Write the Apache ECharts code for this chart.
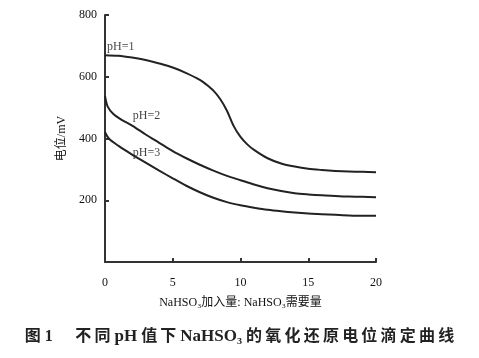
<!DOCTYPE html>
<html><head><meta charset="utf-8">
<script src="https://cdn.jsdelivr.net/npm/echarts@6/dist/echarts.min.js"></script>
<style>html,body{margin:0;padding:0;background:#fff}#c{width:479px;height:358px}</style>
</head><body><div id="c"></div>
<script>
const xTicks = [0, 5, 10, 15, 20];
const yTicks = [200, 400, 600, 800];
const seriesNames = ['pH=1', 'pH=2', 'pH=3'];
const ph1 = [[0,670],[1,668],[2,662],[3,654],[4,643],[5,630],[6,612],[7,590],[7.5,574],[8,555],[8.5,528],[9,490],[9.5,440],[10,405],[10.5,381],[11,363],[12,336],[13,319],[14,309],[15,302],[16,298],[17,295],[18,293],[19,292],[20,291]];
const ph2 = [[0,538],[0.2,503],[0.6,480],[1.2,461],[2,442],[3,413],[4,386],[5,359],[6,336],[7,315],[8,296],[9,279],[10,265],[11,251],[12,239],[13,230],[14,223],[15,219],[16,216],[17,214],[18,212],[19,211],[20,210]];
const ph3 = [[0,420],[0.3,399],[1,376],[2,348],[3,322],[4,296],[5,271],[6,247],[7,226],[8,208],[9,194],[10,184],[11,176],[12,169],[13,164],[14,160],[15,157],[16,155],[17,153],[18,151],[19,150],[20,150]];
const labelAnchors = [[0.15,696],[2.05,472],[2.05,353]];
const xName = 'NaHSO₃加入量: NaHSO₃需要量';
const yName = '电位/mV';
const captionParts = ['图 1', '不同', 'pH', '值下', 'NaHSO₃', '的氧化还原电位滴定曲线'];

const serif = '"Liberation Serif","Noto Sans CJK SC",serif';
const lineStyle = {color:'#222', width:2};
const chart = echarts.init(document.getElementById('c'), null, {renderer:'canvas'});
const datas = [ph1, ph2, ph3];
const series = datas.map((d,i)=>({
  type:'line', name:seriesNames[i], data:d, smooth:0.3, showSymbol:false, symbol:'none',
  lineStyle:lineStyle, silent:true, animation:false
}));
series.push({
  type:'scatter', data:labelAnchors.map((p,i)=>({value:p, name:seriesNames[i]})),
  symbolSize:0, silent:true, animation:false,
  label:{show:true, position:'right', distance:0, formatter:p=>p.name, color:'#111', fontSize:12, fontFamily:serif}
});
const sp = s => s.split('').join('\u2009');
const captionText = '{a|' + captionParts[0] + '}{g|\u3000\u2009\u2009}' +
  '{b|' + sp(captionParts[1]) + ' }{c|' + captionParts[2] + '}{b| ' + sp(captionParts[3]) + ' }' +
  '{c|' + captionParts[4] + '}{b| ' + sp(captionParts[5]) + '}';
chart.setOption({
  animation:false,
  backgroundColor:'#fff',
  title:{
    text:captionText,
    left:'center', bottom:8,
    textStyle:{rich:{
      a:{fontSize:16, fontWeight:'bold', fontFamily:serif, color:'#222'},
      g:{fontSize:16, fontFamily:serif},
      b:{fontSize:16, fontWeight:'bold', fontFamily:serif, color:'#222'},
      c:{fontSize:17, fontWeight:'bold', fontFamily:serif, color:'#222'}
    }}
  },
  grid:{left:105, right:103, top:15, bottom:96},
  xAxis:{
    type:'value', min:0, max:20, interval:5,
    name:xName, nameLocation:'middle', nameGap:35,
    nameTextStyle:{fontSize:12, fontFamily:serif, color:'#111'},
    axisLine:{lineStyle:{color:'#333', width:2}},
    axisTick:{inside:true, length:4, lineStyle:{color:'#333', width:2}},
    axisLabel:{color:'#111', fontSize:12, fontFamily:serif, margin:15},
    splitLine:{show:false}
  },
  yAxis:{
    type:'value', min:0, max:800, interval:200,
    name:yName, nameLocation:'middle', nameGap:37, nameRotate:90,
    nameTextStyle:{fontSize:12, fontFamily:serif, color:'#111'},
    axisLine:{show:true, lineStyle:{color:'#333', width:2}},
    axisTick:{show:true, inside:true, length:4, lineStyle:{color:'#333', width:2}},
    axisLabel:{color:'#111', fontSize:12, fontFamily:serif, margin:8,
      formatter:v=> yTicks.indexOf(v) >= 0 ? String(v) : ''},
    splitLine:{show:false}
  },
  series:series
});
</script></body></html>
